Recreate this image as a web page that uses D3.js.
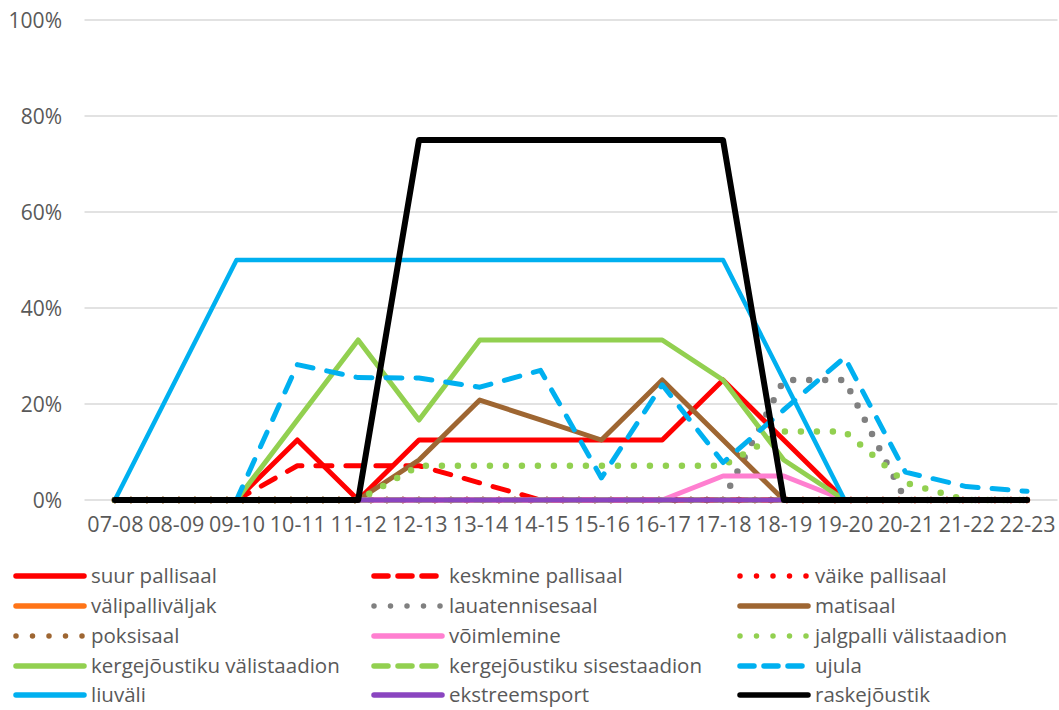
<!DOCTYPE html>
<html>
<head>
<meta charset="utf-8">
<script src="https://cdn.jsdelivr.net/npm/d3@7"></script>
<style>
  html, body { margin: 0; padding: 0; background: #fff; }
  svg { display: block; }
  text { font-family: "Open Sans", "Noto Sans", sans-serif; fill: #595959; }
</style>
</head>
<body>
<svg id="chart" width="1059" height="710"></svg>
<script>
// ---- data ----
const categories = ["07-08","08-09","09-10","10-11","11-12","12-13","13-14","14-15","15-16","16-17","17-18","18-19","19-20","20-21","21-22","22-23"];
const yTicks = [0, 0.2, 0.4, 0.6, 0.8, 1.0];

const suurPallisaal        = [0,0,0,12.5,0,12.5,12.5,12.5,12.5,12.5,25,12.5,0,0,0,0];
const keskminePallisaal    = [0,0,0,7.14,7.14,7.14,3.57,0,0,0,0,0,0,0,0,0];
const vaikePallisaal       = [0,0,0,0,0,0,0,0,0,0,0,0,0,0,0,0];
const valipallivaljak      = [0,0,0,0,0,0,0,0,0,0,0,0,0,0,0,0];
const lauatennisesaal      = [0,0,0,0,0,0,0,0,0,0,0,25,25,0,0,0];
const matisaal             = [0,0,0,0,0,8.33,20.83,16.67,12.5,25,12.5,0,0,0,0,0];
const poksisaal            = [0,0,0,0,0,0,0,0,0,0,0,0,0,0,0,0];
const voimlemine           = [0,0,0,0,0,0,0,0,0,0,5,5,0,0,0,0];
const jalgpalliValistaadion= [0,0,0,0,0,7.14,7.14,7.14,7.14,7.14,7.14,14.29,14.29,3.57,0,0];
const kergValistaadion     = [0,0,0,16.67,33.33,16.67,33.33,33.33,33.33,33.33,25,8.33,0,0,0,0];
const kergSisestaadion     = [0,0,0,0,0,0,0,0,0,0,0,0,0,0,0,0];
const ujula                = [0,0,0,28.2,25.5,25.4,23.5,27,4.6,24,7.8,18.8,29.7,5.8,2.8,1.8];
const liuvali              = [0,25,50,50,50,50,50,50,50,50,50,25,0,0,0,0];
const ekstreemsport        = [0,0,0,0,0,0,0,0,0,0,0,0,0,0,0,0];
const raskejoustik         = [0,0,0,0,0,75,75,75,75,75,75,0,0,0,0,0];

const seriesNames = ["suur pallisaal","keskmine pallisaal","väike pallisaal","välipalliväljak","lauatennisesaal","matisaal","poksisaal","võimlemine","jalgpalli välistaadion","kergejõustiku välistaadion","kergejõustiku sisestaadion","ujula","liuväli","ekstreemsport","raskejõustik"];
const seriesValues = [suurPallisaal,keskminePallisaal,vaikePallisaal,valipallivaljak,lauatennisesaal,matisaal,poksisaal,voimlemine,jalgpalliValistaadion,kergValistaadion,kergSisestaadion,ujula,liuvali,ekstreemsport,raskejoustik];

// ---- styles ----
const seriesColors = ["#FF0000","#FF0000","#FF0000","#FF7417","#808080","#9E6632","#9E6632","#FF7FD0","#92D050","#92D050","#92D050","#00B0F0","#00B0F0","#8A45C0","#000000"];
const seriesDash   = ["solid","dash","dot","solid","dot","solid","dot","solid","dot","solid","dash","dash","solid","solid","solid"];
const seriesWidth  = [5,5,6.5,5,6.5,5,6.5,5,6.5,5,5,5,4.5,5,6];

function dashArray(t){ return t === "dash" ? "16 14" : t === "dot" ? "0 16" : null; }

const svg = d3.select("#chart");
const x = d3.scalePoint().domain(categories).range([84.5, 1057.5]).padding(0.5);
const y = d3.scaleLinear().domain([0, 1]).range([500, 20]);

// gridlines
svg.append("g").selectAll("line").data(yTicks).join("line")
  .attr("x1", 84.5).attr("x2", 1057.5)
  .attr("y1", d => y(d)).attr("y2", d => y(d))
  .attr("stroke", "#D9D9D9").attr("stroke-width", 1.5);

// y axis labels
const yAxis = d3.axisLeft(y).tickValues(yTicks).tickFormat(d3.format(".0%")).tickSize(0).tickPadding(0);
const gy = svg.append("g").attr("transform", "translate(62,0)").call(yAxis);
gy.select(".domain").remove();
gy.selectAll("text").attr("font-size", 21).attr("fill", "#595959")
  .attr("font-family", "'Open Sans', sans-serif").attr("dy", "0.35em");

// x axis labels
const xAxis = d3.axisBottom(x).tickSize(0).tickPadding(0);
const gx = svg.append("g").attr("transform", "translate(0,517)").call(xAxis);
gx.select(".domain").remove();
gx.selectAll("text").attr("font-size", 21.5).attr("fill", "#595959")
  .attr("font-family", "'Open Sans', sans-serif").attr("dy", "0.71em");

// lines
const line = d3.line().x((d, i) => x(categories[i])).y(d => y(d / 100));
seriesNames.forEach((name, k) => {
  svg.append("path")
    .datum(seriesValues[k])
    .attr("d", line)
    .attr("fill", "none")
    .attr("stroke", seriesColors[k])
    .attr("stroke-width", seriesWidth[k])
    .attr("stroke-linejoin", "round")
    .attr("stroke-linecap", "round")
    .attr("stroke-dasharray", dashArray(seriesDash[k]));
});

// legend
const colX = [16, 374, 740];
const rowY = [576, 606, 636, 666, 695];
const leg = svg.append("g");
seriesNames.forEach((name, k) => {
  const c = k % 3, r = Math.floor(k / 3);
  const g = leg.append("g").attr("transform", `translate(${colX[c]},${rowY[r]})`);
  g.append("line").attr("x1", 0).attr("x2", 68).attr("y1", 0).attr("y2", 0)
    .attr("stroke", seriesColors[k]).attr("stroke-width", 5.5)
    .attr("stroke-linecap", "round")
    .attr("stroke-dasharray", seriesDash[k] === "dash" ? "14 10" : seriesDash[k] === "dot" ? "0 16.5" : null);
  g.append("text").attr("x", 75).attr("y", 0).attr("dy", "0.35em")
    .attr("font-size", 20.5).text(name);
});
</script>
</body>
</html>
